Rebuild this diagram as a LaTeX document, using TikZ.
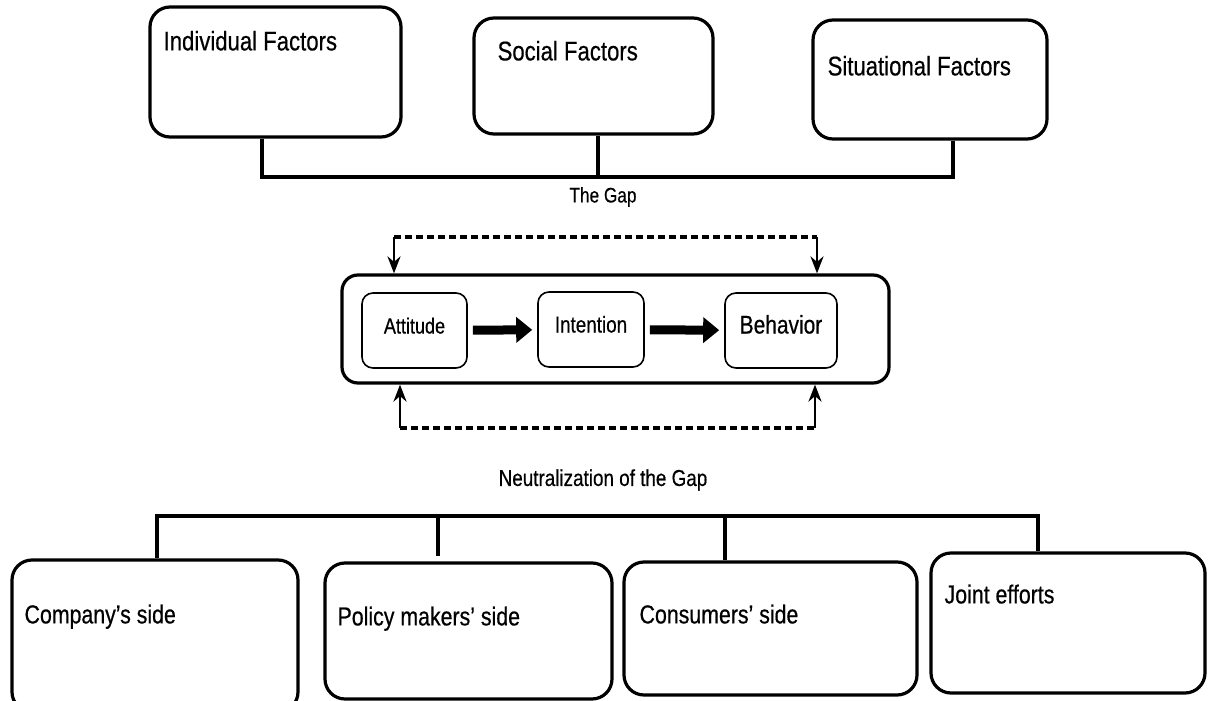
\documentclass[tikz,border=0pt]{standalone}
\usepackage{fontspec}
\usepackage{tikz}
\usetikzlibrary{arrows.meta,positioning,calc}
\newfontfamily\narrowfont[FakeStretch=0.82,FakeBold=0.5]{Liberation Sans}

\begin{document}
\begin{tikzpicture}[
    x=1pt, y=-1pt,
    factor/.style={rectangle, draw, rounded corners=20pt, line width=3.2pt, inner sep=0pt},
    stage/.style={rectangle, draw, rounded corners=11pt, line width=1.6pt, inner sep=0pt, minimum height=75pt, text height=18pt, text depth=12pt},
    boxtext/.style={anchor=base west, inner sep=0pt, font=\narrowfont\fontsize{27}{30}\selectfont},
    caption/.style={inner sep=0pt, font=\narrowfont\fontsize{22}{26}\selectfont},
    link/.style={line width=3.4pt},
    bigarrow/.style={-{Triangle[length=16pt,width=25pt]}, line width=9pt, shorten <=5pt, shorten >=5pt},
    gaparrow/.style={-{Stealth[length=17pt,width=13pt]}, line width=2.6pt},
    gapline/.style={line width=3.2pt, dash pattern=on 7pt off 4pt}
]
    \useasboundingbox (0,0) rectangle (1213,701);

    % Factors
    \node[factor, minimum width=251pt, minimum height=130pt] (indiv) at (275.5,72) {};
    \node[factor, minimum width=239pt, minimum height=116pt] (social) at (593.5,76) {};
    \node[factor, minimum width=234pt, minimum height=119pt] (situ) at (930,79.5) {};
    \node[boxtext] (indivtext) at ($(indiv.north west)+(15,45)$) {Individual Factors};
    \node[boxtext] (socialtext) at ($(social.north west)+(25,44)$) {Social Factors};
    \node[boxtext] (situtext) at ($(situ.north west)+(16,57)$) {Situational Factors};

    \coordinate (tl) at (262,177);
    \coordinate (tm) at (598,177);
    \coordinate (tr) at (953,177);
    \draw[link] (tl |- indiv.south) -- (tl) -- (tr) -- (tr |- situ.south);
    \draw[link] (tm |- social.south) -- (tm);

    \node[caption, font=\narrowfont\fontsize{21}{24}\selectfont] (gaplabel) at (603,197) {The Gap};

    % The gap
    \node[rectangle, draw, rounded corners=16pt, line width=3.2pt, minimum width=547pt, minimum height=108pt] (gapbox) at (615.5,329) {};
    \node[stage, minimum width=105pt, font=\narrowfont\fontsize{22}{26}\selectfont] (attitude) at (414.5,330.5) {Attitude};
    \node[stage, minimum width=106pt, font=\narrowfont\fontsize{23}{26}\selectfont] (intention) at (591,329.5) {Intention};
    \node[stage, minimum width=112pt, font=\narrowfont\fontsize{25.5}{28}\selectfont] (behavior) at (781,330.5) {Behavior};
    \draw[bigarrow] (attitude) -- (intention);
    \draw[bigarrow] (intention) -- (behavior);

    \coordinate (fbl) at (394,237);
    \coordinate (fbr) at (817,237);
    \draw[gapline] (fbl) -- (fbr);
    \draw[gaparrow] (fbl) -- (fbl |- gapbox.north);
    \draw[gaparrow] (fbr) -- (fbr |- gapbox.north);
    \coordinate (fal) at (400,428);
    \coordinate (far) at (815,428);
    \draw[gapline] (fal) -- (far);
    \draw[gaparrow] (fal) -- (fal |- gapbox.south);
    \draw[gaparrow] (far) -- (far |- gapbox.south);

    \node[caption, font=\narrowfont\fontsize{23}{26}\selectfont] (neutlabel) at (603,480) {Neutralization of the Gap};

    % Sides
    \node[factor, minimum width=286pt, minimum height=152pt] (company) at (155,636) {};
    \node[factor, minimum width=287pt, minimum height=136pt] (policy) at (468.5,631) {};
    \node[factor, minimum width=293pt, minimum height=133pt] (consumers) at (770.5,628.5) {};
    \node[factor, minimum width=274pt, minimum height=140pt] (joint) at (1068,623) {};
    \node[boxtext, font=\narrowfont\fontsize{26}{29}\selectfont] (companytext) at ($(company.north west)+(14,65)$) {Company’s side};
    \node[boxtext, font=\narrowfont\fontsize{26}{29}\selectfont] (policytext) at ($(policy.north west)+(14,64)$) {Policy makers’ side};
    \node[boxtext, font=\narrowfont\fontsize{26}{29}\selectfont] (consumerstext) at ($(consumers.north west)+(17,63)$) {Consumers’ side};
    \node[boxtext, font=\narrowfont\fontsize{26}{29}\selectfont] (jointtext) at ($(joint.north west)+(15,52)$) {Joint efforts};

    \coordinate (nl) at (157,516);
    \coordinate (np) at (438,516);
    \coordinate (nc) at (725,516);
    \coordinate (nr) at (1038,516);
    \draw[link] (nl |- company.north) -- (nl) -- (nr) -- (nr |- joint.north);
    \draw[link, shorten >=5pt] (np) -- (np |- policy.north);
    \draw[link] (nc) -- (nc |- consumers.north);
\end{tikzpicture}
\end{document}
